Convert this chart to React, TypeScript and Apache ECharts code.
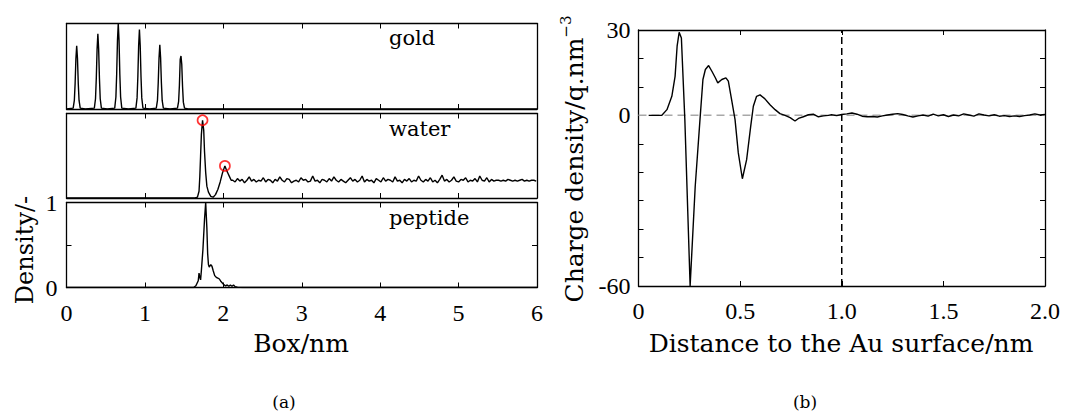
import React, { useEffect, useRef } from "react";
import * as echarts from "echarts";

// ---------- data ----------
const boxTicks = [0, 1, 2, 3, 4, 5, 6];

// gold density profile: [x (nm), density]
const goldProfile: number[][] = [
  [0, 0], [0.085, 0.01], [0.10, 0.10], [0.11, 0.30], [0.12, 0.59], [0.13, 0.74], [0.14, 0.59], [0.15, 0.30], [0.16, 0.10], [0.175, 0.01],
  [0.24, 0], [0.355, 0.01], [0.37, 0.12], [0.38, 0.36], [0.39, 0.70], [0.40, 0.88], [0.41, 0.70], [0.42, 0.36], [0.43, 0.12], [0.445, 0.01],
  [0.52, 0], [0.615, 0.01], [0.63, 0.14], [0.64, 0.41], [0.65, 0.80], [0.66, 1.0], [0.67, 0.80], [0.68, 0.41], [0.69, 0.14], [0.705, 0.01],
  [0.79, 0], [0.885, 0.01], [0.90, 0.13], [0.91, 0.38], [0.92, 0.74], [0.93, 0.93], [0.94, 0.74], [0.95, 0.38], [0.96, 0.13], [0.975, 0.01],
  [1.06, 0], [1.145, 0.01], [1.16, 0.10], [1.17, 0.31], [1.18, 0.60], [1.19, 0.75], [1.20, 0.60], [1.21, 0.31], [1.22, 0.10], [1.235, 0.01],
  [1.32, 0], [1.415, 0.01], [1.43, 0.09], [1.44, 0.28], [1.45, 0.58], [1.46, 0.62], [1.47, 0.52], [1.48, 0.26], [1.49, 0.08], [1.505, 0.01],
  [1.55, 0], [6, 0],
];

// water: first layers, then bulk noise
const waterPeaks: number[][] = [
  [0, 0], [1.64, 0], [1.67, 0.01], [1.69, 0.08], [1.70, 0.25], [1.71, 0.50], [1.72, 0.75], [1.735, 0.92], [1.75, 0.80],
  [1.76, 0.55], [1.775, 0.30], [1.79, 0.14], [1.81, 0.07], [1.84, 0.02], [1.87, 0.01], [1.90, 0.04], [1.93, 0.10],
  [1.96, 0.19], [1.99, 0.30], [2.02, 0.38], [2.04, 0.33], [2.06, 0.29], [2.08, 0.25], [2.10, 0.21],
];
const waterBulkStart = 2.12;
const waterBulkStep = 0.03;
const waterBulk = [
  0.21, 0.19, 0.23, 0.20, 0.22, 0.18, 0.21, 0.25, 0.20, 0.22,
  0.19, 0.21, 0.20, 0.24, 0.19, 0.22, 0.21, 0.18, 0.22, 0.20,
  0.25, 0.21, 0.19, 0.23, 0.22, 0.18, 0.20, 0.21, 0.19, 0.24,
  0.21, 0.22, 0.19, 0.20, 0.26, 0.20, 0.21, 0.18, 0.22, 0.21,
  0.19, 0.23, 0.20, 0.25, 0.21, 0.19, 0.22, 0.20, 0.18, 0.21,
  0.24, 0.20, 0.22, 0.19, 0.21, 0.26, 0.19, 0.22, 0.20, 0.21,
  0.18, 0.23, 0.21, 0.19, 0.24, 0.20, 0.22, 0.21, 0.19, 0.25,
  0.20, 0.21, 0.18, 0.22, 0.20, 0.23, 0.19, 0.21, 0.20, 0.26,
  0.21, 0.19, 0.22, 0.20, 0.24, 0.19, 0.21, 0.18, 0.22, 0.27,
  0.20, 0.22, 0.19, 0.21, 0.25, 0.20, 0.19, 0.22, 0.21, 0.24,
  0.19, 0.21, 0.20, 0.23, 0.19, 0.26, 0.21, 0.20, 0.24, 0.19,
  0.22, 0.20, 0.21, 0.21, 0.20, 0.21, 0.20, 0.22, 0.21, 0.20,
  0.21, 0.20, 0.21, 0.22, 0.20, 0.21, 0.20, 0.21, 0.21, 0.20,
];
const waterMarked: number[][] = [[1.735, 0.92], [2.02, 0.38]];

// peptide density profile
const peptideProfile: number[][] = [
  [0, 0], [1.62, 0], [1.65, 0.02], [1.68, 0.08], [1.69, 0.17], [1.70, 0.12], [1.71, 0.09], [1.72, 0.20], [1.74, 0.45],
  [1.76, 0.80], [1.775, 1.0], [1.79, 0.70], [1.80, 0.40], [1.81, 0.27], [1.82, 0.24], [1.84, 0.27], [1.855, 0.25],
  [1.87, 0.20], [1.89, 0.14], [1.91, 0.12], [1.93, 0.11], [1.95, 0.10], [1.97, 0.07], [1.99, 0.05], [2.01, 0.03],
  [2.03, 0.02], [2.05, 0.03], [2.07, 0.015], [2.09, 0.03], [2.11, 0.015], [2.13, 0.03], [2.15, 0.01], [2.18, 0.005],
  [2.25, 0], [6, 0],
];

// charge density (b)
const distTicks = [0, 0.5, 1.0, 1.5, 2.0];
const chargeNear: number[][] = [
  [0.05, 0], [0.115, 0], [0.14, 2.0], [0.164, 6.7], [0.18, 13.7], [0.19, 24.3], [0.2, 29.2], [0.211, 27.2],
  [0.228, -1.5], [0.254, -60], [0.279, -25], [0.304, 0], [0.317, 12.6], [0.329, 16.1], [0.345, 17.5], [0.361, 15.5],
  [0.378, 13.2], [0.39, 11.4], [0.41, 12.6], [0.43, 13.2], [0.442, 12.0], [0.458, 5.5], [0.475, -1.5], [0.491, -13.2],
  [0.511, -22.3], [0.532, -15.6], [0.552, -3.9], [0.565, 3.2], [0.581, 6.7], [0.598, 7.2], [0.622, 5.8], [0.647, 3.7],
  [0.672, 2.0], [0.696, 0.6], [0.721, 0], [0.746, -0.8], [0.77, -2.0], [0.787, -1.1], [0.811, -0.5], [0.836, 0.2],
  [0.86, 0.4], [0.885, -0.5], [0.91, -0.2], [0.934, 0],
];
const chargeFarStart = 0.95;
const chargeFarStep = 0.025;
const chargeFar = [
  0.2, -0.1, 0.3, 0.5, 0.8, 0.4, -0.3, -0.5, -0.4, -0.6,
  -0.2, 0.1, 0.4, 0.6, 0.3, -0.2, -0.6, -0.2, 0.1, -0.3,
  0.4, -0.2, 0.2, -0.4, 0.1, -0.2, 0.5, 0.1, -0.3, 0.5,
  0.1, -0.2, 0.2, -0.3, -0.1, -0.4, -0.2, -0.4, -0.1, 0.1,
  0.5, 0.1, 0.3,
];
const surfaceMark = 1.0;

const panelNames = ["gold", "water", "peptide"];

// ---------- styling ----------
const WORD_FONT = '"DejaVu Serif"';
const NUM_FONT = '"Liberation Serif"';
const BLACK = "#000";

export default function App() {
  const ref = useRef<HTMLDivElement>(null);

  useEffect(() => {
    if (!ref.current) return;
    const chart = echarts.init(ref.current, null, { renderer: "svg" });

    const leftGrids = [
      { left: 66.5, top: 23.5, width: 470.5, height: 85.5 },
      { left: 66.5, top: 113.5, width: 470.5, height: 84.5 },
      { left: 66.5, top: 202.5, width: 470.5, height: 85 },
    ];
    const rightGrid = { left: 638.5, top: 30, width: 406.5, height: 256 };

    const line = { lineStyle: { color: BLACK, width: 1.3 } };
    const tick = { show: true, inside: true, length: 5, lineStyle: { color: BLACK, width: 1 } };
    const noTick = { show: false };
    const numLabel = { fontFamily: NUM_FONT, fontSize: 24, color: BLACK };

    const xAxes: any[] = [];
    const yAxes: any[] = [];
    leftGrids.forEach((_, i) => {
      ["bottom", "top"].forEach((pos) => {
        xAxes.push({
          gridIndex: i, type: "value", position: pos, min: boxTicks[0], max: boxTicks[boxTicks.length - 1], interval: 1,
          axisLine: { show: true, onZero: false, ...line }, axisTick: tick, splitLine: { show: false },
          axisLabel: i === 2 && pos === "bottom" ? { show: true, margin: 13, ...numLabel } : { show: false },
        });
      });
      ["left", "right"].forEach((pos) => {
        yAxes.push({
          gridIndex: i, type: "value", position: pos, min: 0, max: 1, interval: 0.5,
          axisLine: { show: true, onZero: false, ...line }, axisTick: i === 2 ? tick : noTick, splitLine: { show: false },
          axisLabel: i === 2 && pos === "left"
            ? { show: true, margin: 9, ...numLabel, formatter: (v: number) => (v === 0.5 ? "" : String(v)) }
            : { show: false },
        });
      });
    });
    ["bottom", "top"].forEach((pos) => {
      xAxes.push({
        gridIndex: 3, type: "value", position: pos, min: 0, max: 2, interval: 0.5,
        axisLine: { show: true, onZero: false, ...line }, axisTick: tick, splitLine: { show: false },
        axisLabel: pos === "bottom"
          ? { show: true, margin: 13, ...numLabel, formatter: (v: number) => (v === 0 ? "0" : v.toFixed(1)) }
          : { show: false },
      });
    });
    ["left", "right"].forEach((pos) => {
      yAxes.push({
        gridIndex: 3, type: "value", position: pos, min: -60, max: 30, interval: 10,
        axisLine: { show: true, onZero: false, ...line }, axisTick: tick, splitLine: { show: false },
        axisLabel: pos === "left"
          ? { show: true, margin: 8, ...numLabel, formatter: (v: number) => (v === 30 || v === 0 || v === -60 ? String(v) : "") }
          : { show: false },
      });
    });

    const waterData = [
      ...waterPeaks,
      ...waterBulk.map((v, k) => [waterBulkStart + k * waterBulkStep, v]),
    ];
    const chargeData = [
      ...chargeNear,
      ...chargeFar.map((v, k) => [chargeFarStart + k * chargeFarStep, v]),
    ];

    const curve = (data: number[][], xi: number, yi: number, z = 3) => ({
      type: "line", xAxisIndex: xi, yAxisIndex: yi, data, showSymbol: false, symbol: "none",
      lineStyle: { color: BLACK, width: 1.4 }, z, silent: true, clip: true,
    });

    const option: any = {
      animation: false,
      backgroundColor: "#fff",
      grid: [...leftGrids, rightGrid].map((g) => ({ ...g, show: false, containLabel: false })),
      xAxis: xAxes,
      yAxis: yAxes,
      series: [
        curve(goldProfile, 0, 0),
        curve(waterData, 2, 2),
        {
          type: "scatter", xAxisIndex: 2, yAxisIndex: 2, data: waterMarked, symbol: "circle", symbolSize: 10,
          itemStyle: { color: "rgba(0,0,0,0)", borderColor: "#ff0000", borderWidth: 1.7 }, z: 4, silent: true,
        },
        curve(peptideProfile, 4, 4),
        {
          type: "line", xAxisIndex: 6, yAxisIndex: 6, data: [[distTicks[0], 0], [distTicks[distTicks.length - 1], 0]],
          showSymbol: false, symbol: "none", lineStyle: { color: "#a8a8a8", width: 1.5, type: [8, 5] }, z: 2, silent: true,
        },
        curve(chargeData, 6, 6),
        {
          type: "line", xAxisIndex: 6, yAxisIndex: 6, data: [[surfaceMark, -60], [surfaceMark, 30]],
          showSymbol: false, symbol: "none", lineStyle: { color: BLACK, width: 1.5, type: [7, 4] }, z: 4, silent: true,
        },
      ],
      graphic: [
        ...panelNames.map((name, i) => ({
          type: "text", x: 389, y: [38, 129, 218][i],
          style: { text: name, fontFamily: WORD_FONT, fontSize: 21, fill: BLACK, align: "left", verticalAlign: "middle" },
        })),
        {
          type: "text", x: 25, y: 250, rotation: Math.PI / 2,
          style: { text: "Density/-", fontFamily: WORD_FONT, fontSize: 24, fill: BLACK, align: "center", verticalAlign: "middle" },
        },
        {
          type: "text", x: 301, y: 343,
          style: { text: "Box/nm", fontFamily: WORD_FONT, fontSize: 25, fill: BLACK, align: "center", verticalAlign: "middle" },
        },
        {
          type: "text", x: 574, y: 159, rotation: Math.PI / 2,
          style: {
            text: "Charge density/q.nm{sup|−3}", fontFamily: WORD_FONT, fontSize: 25, fill: BLACK,
            align: "center", verticalAlign: "middle", lineHeight: 32,
            rich: { sup: { fontFamily: WORD_FONT, fontSize: 15, fill: BLACK, verticalAlign: "top", lineHeight: 32 } },
          },
        },
        {
          type: "text", x: 841, y: 343,
          style: { text: "Distance to the Au surface/nm", fontFamily: WORD_FONT, fontSize: 25, fill: BLACK, align: "center", verticalAlign: "middle" },
        },
        {
          type: "text", x: 284, y: 402,
          style: { text: "(a)", fontFamily: WORD_FONT, fontSize: 17, fill: BLACK, align: "center", verticalAlign: "middle" },
        },
        {
          type: "text", x: 805, y: 402,
          style: { text: "(b)", fontFamily: WORD_FONT, fontSize: 17, fill: BLACK, align: "center", verticalAlign: "middle" },
        },
      ],
    };

    chart.setOption(option);
    return () => chart.dispose();
  }, []);

  return (
    <div
      ref={ref}
      style={{ position: "absolute", left: 0, top: 0, width: 1066, height: 414, background: "#fff" }}
    />
  );
}
